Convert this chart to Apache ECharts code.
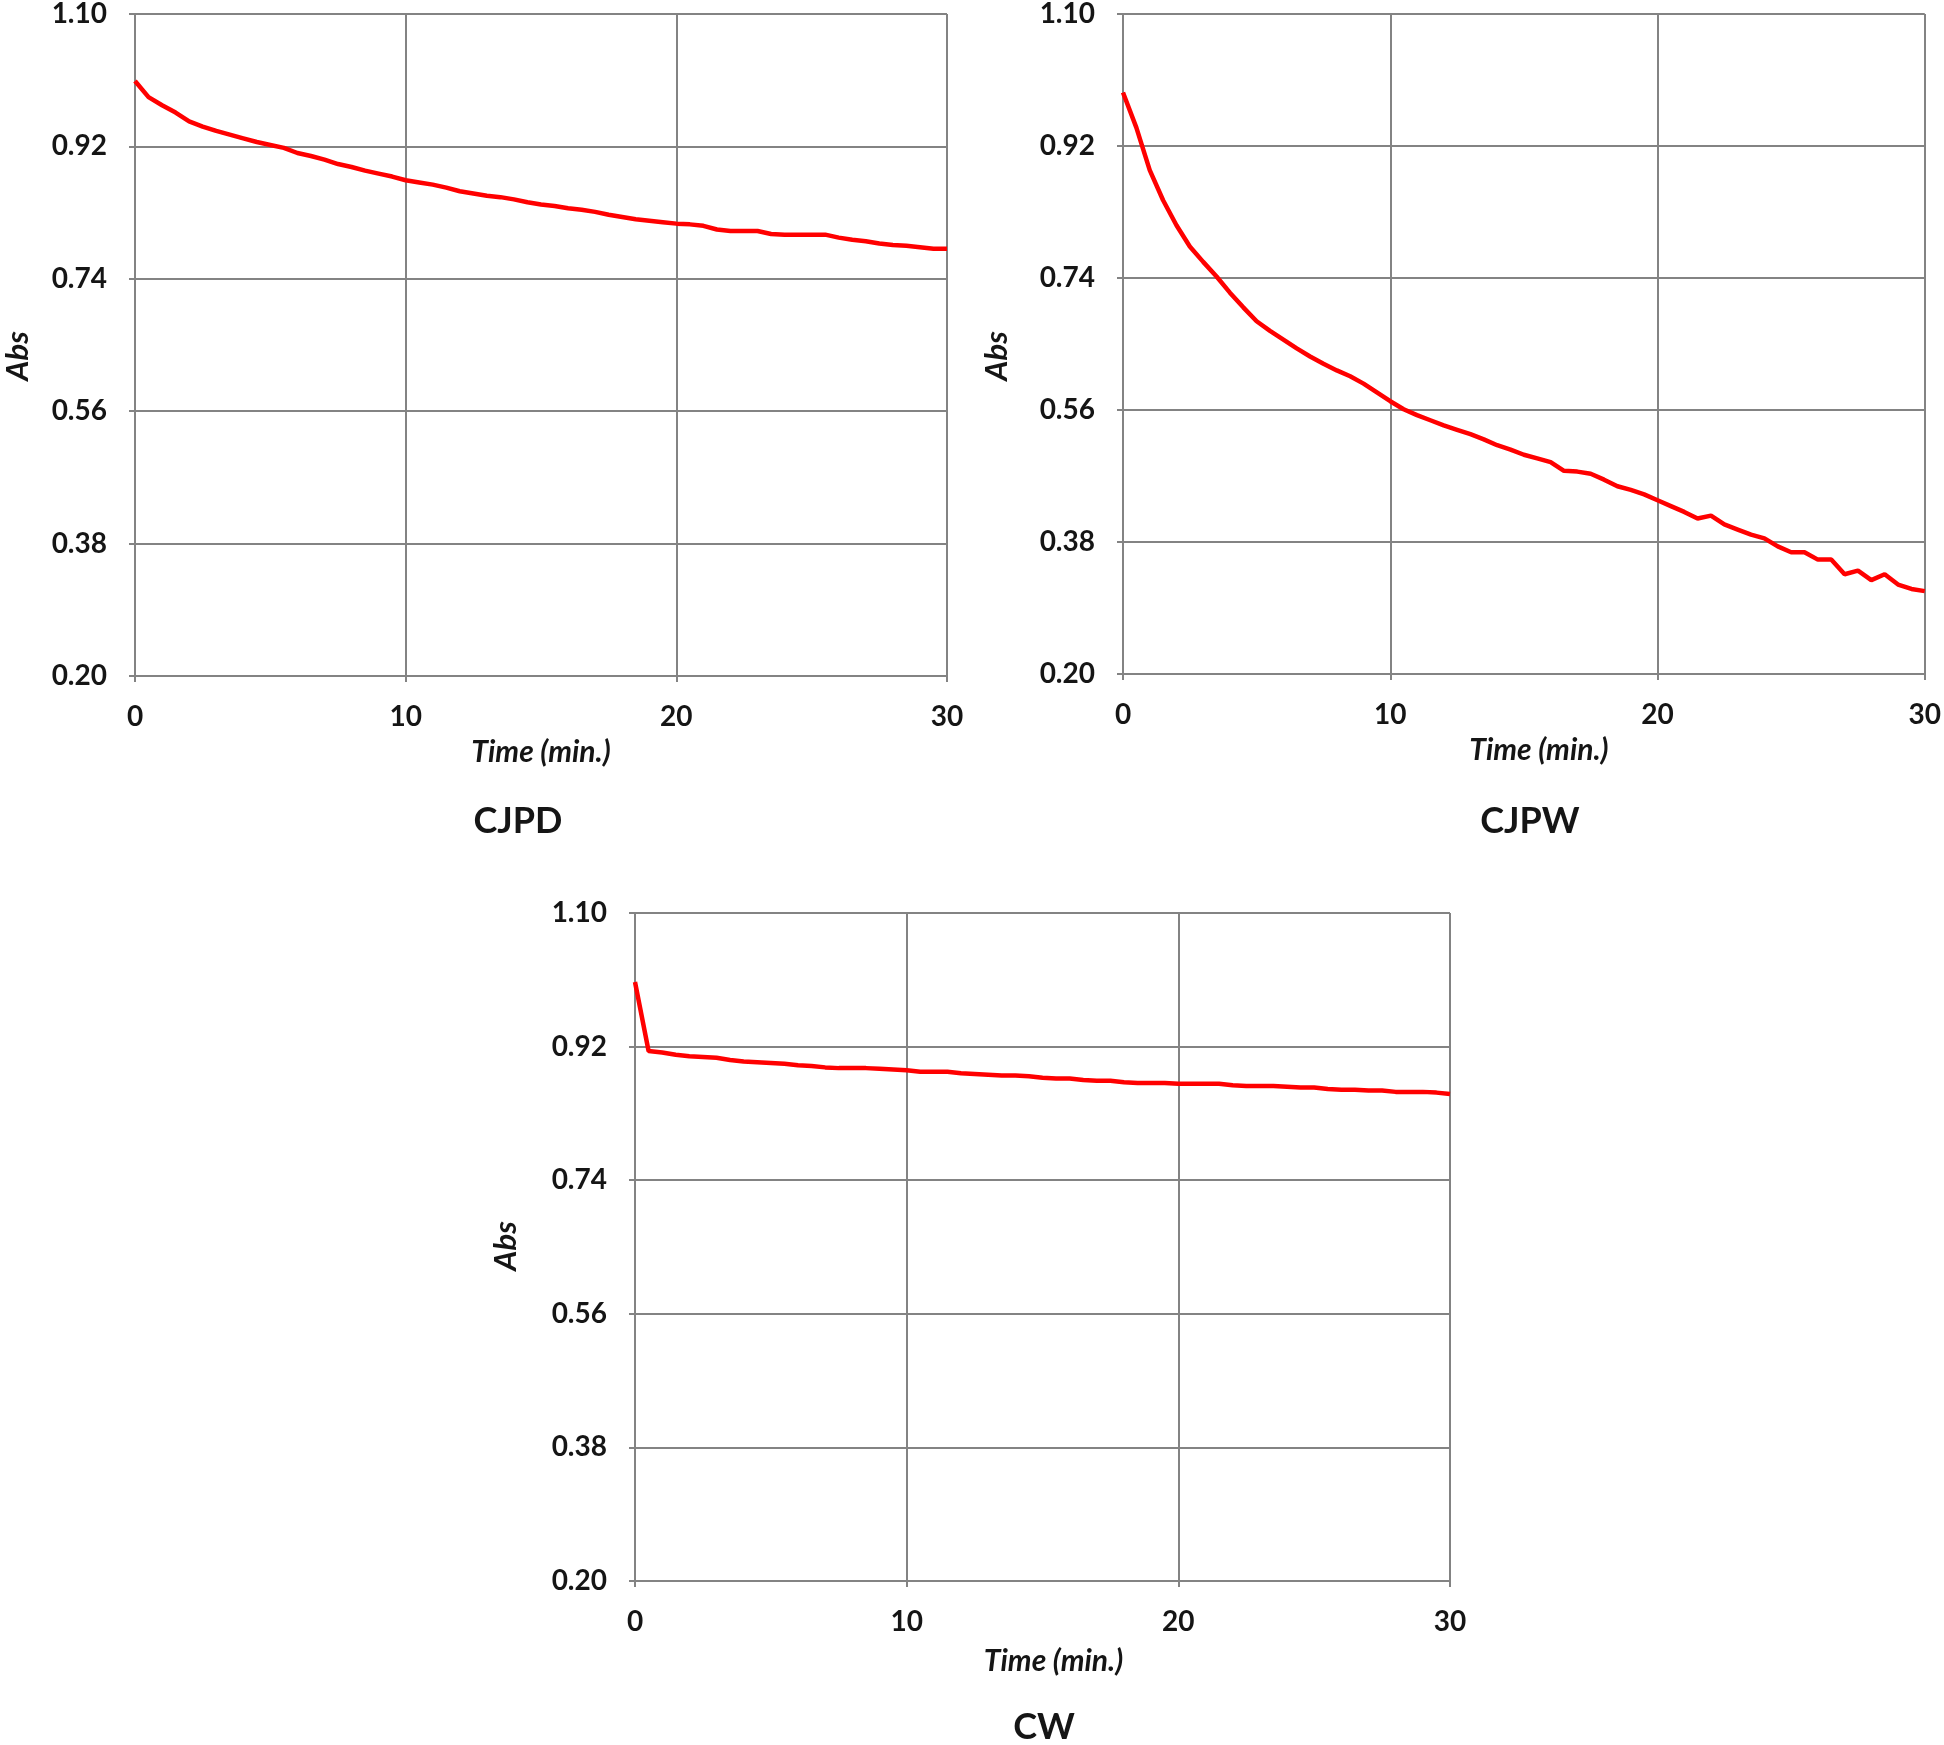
<!DOCTYPE html>
<html>
<head>
<meta charset="utf-8">
<script src="https://cdn.jsdelivr.net/npm/echarts@6/dist/echarts.min.js"></script>
<style>
html,body{margin:0;padding:0;background:#fff;}
#chart{width:1944px;height:1745px;}
</style>
</head>
<body>
<div id="chart"></div>
<script>
// Time in minutes (sampled every 0.5 min)
const times = [0,0.5,1,1.5,2,2.5,3,3.5,4,4.5,5,5.5,6,6.5,7,7.5,8,8.5,9,9.5,10,
  10.5,11,11.5,12,12.5,13,13.5,14,14.5,15,15.5,16,16.5,17,17.5,18,18.5,19,19.5,20,
  20.5,21,21.5,22,22.5,23,23.5,24,24.5,25,25.5,26,26.5,27,27.5,28,28.5,29,29.5,30];

const absCJPD = [1.009,0.987,0.976,0.966,0.954,0.947,0.941,0.936,0.931,0.926,0.922,
  0.918,0.911,0.907,0.902,0.896,0.892,0.887,0.883,0.879,0.874,
  0.871,0.868,0.864,0.859,0.856,0.853,0.851,0.848,0.844,0.841,
  0.839,0.836,0.834,0.831,0.827,0.824,0.821,0.819,0.817,0.815,
  0.814,0.812,0.807,0.805,0.805,0.805,0.801,0.800,0.800,0.800,
  0.800,0.796,0.793,0.791,0.788,0.786,0.785,0.783,0.781,0.781];

const absCJPW = [0.993,0.945,0.887,0.846,0.812,0.783,0.762,0.742,0.720,0.700,0.681,
  0.668,0.656,0.644,0.633,0.623,0.614,0.606,0.596,0.584,0.572,
  0.561,0.553,0.546,0.539,0.533,0.527,0.520,0.512,0.506,0.499,
  0.494,0.489,0.477,0.476,0.473,0.465,0.456,0.451,0.445,0.437,
  0.429,0.421,0.412,0.416,0.404,0.397,0.390,0.385,0.374,0.366,
  0.366,0.356,0.356,0.336,0.341,0.328,0.336,0.322,0.316,0.313];

const absCW = [1.007,0.914,0.912,0.909,0.907,0.906,0.905,0.902,0.900,0.899,0.898,
  0.897,0.895,0.894,0.892,0.891,0.891,0.891,0.890,0.889,0.888,
  0.886,0.886,0.886,0.884,0.883,0.882,0.881,0.881,0.880,0.878,
  0.877,0.877,0.875,0.874,0.874,0.872,0.871,0.871,0.871,0.870,
  0.870,0.870,0.870,0.868,0.867,0.867,0.867,0.866,0.865,0.865,
  0.863,0.862,0.862,0.861,0.861,0.859,0.859,0.859,0.858,0.856];

const panelTitles = ['CJPD', 'CJPW', 'CW'];
const xTicks = [0, 10, 20, 30];
const yTicks = [0.20, 0.38, 0.56, 0.74, 0.92, 1.10];
const xName = 'Time (min.)';
const yName = 'Abs';

const FONT = 'Lato, "Open Sans", sans-serif';
const GRID_COLOR = '#838383';
const TEXT_COLOR = '#151515';

const grids = [
  {left: 135, top: 5, width: 812, height: 671},
  {left: 1123, top: 7, width: 805, height: 667},
  {left: 635, top: 913, width: 815, height: 668}
];
const seriesVals = [absCJPD, absCJPW, absCW];
const titlePos = [[518, 821], [1530, 821], [1044, 1727]];
const yNamePos = [[18, 356], [997, 356], [506, 1246]];
const xNamePad = [[0, 0, 0, 0], [0, 0, 0, 30], [4, 0, 0, 22]];

function xAxisFor(i) {
  return {
    type: 'value', gridIndex: i, min: xTicks[0], max: xTicks[xTicks.length - 1],
    interval: xTicks[1] - xTicks[0],
    name: xName, nameLocation: 'middle', nameGap: 61,
    nameTextStyle: {fontFamily: FONT, fontSize: 30, fontWeight: 'bold', fontStyle: 'italic', color: TEXT_COLOR,
      padding: xNamePad[i]},
    axisLine: {show: true, lineStyle: {color: GRID_COLOR, width: 2}},
    axisTick: {show: true, length: 6, lineStyle: {color: GRID_COLOR, width: 2}},
    axisLabel: {fontFamily: FONT, fontSize: 28, fontWeight: 'bold', color: TEXT_COLOR, margin: 27},
    splitLine: {show: true, lineStyle: {color: GRID_COLOR, width: 2}}
  };
}
function yAxisFor(i) {
  return {
    type: 'value', gridIndex: i, min: yTicks[0], max: yTicks[yTicks.length - 1],
    interval: +(yTicks[1] - yTicks[0]).toFixed(2),
    axisLine: {show: true, lineStyle: {color: GRID_COLOR, width: 2}},
    axisTick: {show: true, length: 6, lineStyle: {color: GRID_COLOR, width: 2}},
    axisLabel: {fontFamily: FONT, fontSize: 28, fontWeight: 'bold', color: TEXT_COLOR, margin: 28,
      formatter: v => v.toFixed(2)},
    splitLine: {show: true, lineStyle: {color: GRID_COLOR, width: 2}}
  };
}

const graphics = [];
panelTitles.forEach((t, i) => {
  graphics.push({type: 'text', x: titlePos[i][0], y: titlePos[i][1],
    style: {text: t, font: 'bold 36px ' + FONT, fill: TEXT_COLOR, textAlign: 'center', textVerticalAlign: 'middle'}});
  graphics.push({type: 'text', x: yNamePos[i][0], y: yNamePos[i][1], rotation: Math.PI / 2,
    style: {text: yName, font: 'italic bold 31px ' + FONT, fill: TEXT_COLOR, textAlign: 'center', textVerticalAlign: 'middle'}});
});

const option = {
  backgroundColor: '#ffffff',
  animation: false,
  grid: grids.map(g => Object.assign({containLabel: false}, g)),
  xAxis: [0, 1, 2].map(xAxisFor),
  yAxis: [0, 1, 2].map(yAxisFor),
  series: seriesVals.map((vals, i) => ({
    type: 'line', xAxisIndex: i, yAxisIndex: i,
    data: times.map((t, k) => [t, vals[k]]),
    showSymbol: false, symbol: 'none',
    lineStyle: {color: '#ff0000', width: 4.5},
    z: 5
  })),
  graphic: graphics
};

const chart = echarts.init(document.getElementById('chart'), null, {renderer: 'canvas'});
chart.setOption(option);
</script>
</body>
</html>
